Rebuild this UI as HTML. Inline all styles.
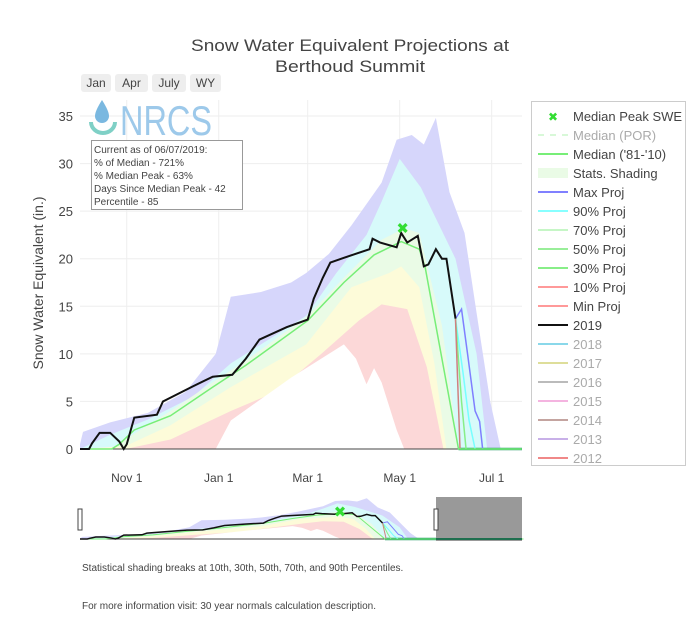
<!DOCTYPE html>
<html><head><meta charset="utf-8">
<style>
body{margin:0;width:700px;height:622px;background:#fff;font-family:"Liberation Sans","DejaVu Sans",sans-serif;position:relative;overflow:hidden}
svg{position:absolute;left:0;top:0}
.btn{position:absolute;top:74px;height:18px;background:#eee;border-radius:3px;font-size:12px;color:#444;line-height:18px;text-align:center}
</style></head><body>
<div class="btn" style="left:81px;width:30px">Jan</div>
<div class="btn" style="left:115px;width:33px">Apr</div>
<div class="btn" style="left:152px;width:34px">July</div>
<div class="btn" style="left:190px;width:31px">WY</div>
<svg id="c" width="700" height="622"></svg>
<script>
// data: days since Oct 1, SWE inches
const wy2019Days=[0,6,8,13,20,26,29,31,36,51,55,75,88,101,110,119,137,151,155,161,166,175,192,194,199,210,213,217,224,228,231,236,240,243,249];
const wy2019Vals=[0,0,0.6,1.7,1.7,0.8,0,0.5,3.3,3.6,5,6.6,7.6,7.8,9.5,11.5,12.8,13.6,15.8,18,19.6,20.1,21,22.1,21.7,21.2,22.7,21.7,22.4,19.2,19.4,21,20,20,13.7];
const medianDays=[0,21,26,36,60,88,110,151,175,195,213,225,229,251,365];
const medianVals=[0,0,0.5,2,3.5,6.5,8.8,13.5,17.5,20.4,21.8,21,19,0,0];
const maxDays=[0,2,20,45,70,90,100,120,140,150,165,180,200,210,220,228,236,245,255,263,272,279];
const maxVals=[0.5,1.8,2.8,3.8,6,10,16,16.5,17.5,18.5,20.5,23.5,28,32.5,33,32,34.8,27,22.7,14.3,5,0];
const p90Days=[0,20,45,75,100,130,150,170,190,200,212,226,249,263,270];
const p90Vals=[0,1.5,3.1,5.5,9,12,14,18.5,22.5,26,30.5,27.5,20,10,0];
const p70Days=[0,21,30,60,88,110,151,175,200,215,225,240,251];
const p70Vals=[0,0,1,4,7,9.3,14,18,22,23.2,22.7,13,0];
const p50Days=[0,30,60,100,150,180,205,213,225,235,243];
const p50Vals=[0,0.3,2.5,6.5,11,17,18.5,19.2,17,9,0];
const p30Days=[0,30,60,100,130,160,185,200,217,230,241];
const p30Vals=[0,0,1,4,6,10,13.5,15.2,14.7,8.6,0];
const p10Days=[0,90,100,140,175,183,190,195,200,210,215];
const p10Vals=[0,0,3,7.5,11,9.5,6.8,8.5,7,2,0];
const projMaxDays=[249,253,257,262,265,267];
const projMaxVals=[13.7,14.7,10,4,2.9,0];
const projMinDays=[249,252];const projMinVals=[13.7,0];
const peakDay=[214],peakVal=[23.2];
const yTicks=[0,5,10,15,20,25,30,35];
const xTickDays=[31,92,151,212,273];
const xTickLabels=["Nov  1","Jan  1","Mar  1","May  1","Jul  1"];

const NS="http://www.w3.org/2000/svg",svg=document.getElementById('c');
function el(t,a,p){const e=document.createElementNS(NS,t);for(const k in a)e.setAttribute(k,a[k]);(p||svg).appendChild(e);return e;}
const X=d=>80+Math.min(d,293)*1.508, Y=v=>449-v*9.514;
const x2=d=>80+d*1.215, y2=v=>539-v*1.17;

function area(days,vals,fx,fy){let s='M'+fx(days[0])+','+fy(0);days.forEach((d,i)=>s+='L'+fx(d)+','+fy(vals[i]));return s+'L'+fx(days[days.length-1])+','+fy(0)+'Z';}
function line(days,vals,fx,fy){return days.map((d,i)=>(i?'L':'M')+fx(d)+','+fy(vals[i])).join('');}

yTicks.forEach(v=>{
const g=el('line',{x1:80,x2:522,y1:Y(v),y2:Y(v),stroke:'#eee'});

const t=el('text',{x:73,y:Y(v)+5,'text-anchor':'end','font-size':13,fill:'#444'});t.textContent=v;

});
xTickDays.forEach((d,i)=>{
const g=el('line',{x1:X(d),x2:X(d),y1:100,y2:449,stroke:'#eee'});

const t=el('text',{x:X(d),y:482,'text-anchor':'middle','font-size':12,fill:'#444'});t.textContent=xTickLabels[i];

});

function drawChart(fx,fy,pre,lw){
const layers=[[maxDays,maxVals,'#d6d6fb','max'],[p90Days,p90Vals,'#d7fafa','p90'],[p70Days,p70Vals,'#eafbe6','p70'],[p50Days,p50Vals,'#fdfbd9','p50'],[p30Days,p30Vals,'#fcd8d8','p30'],[p10Days,p10Vals,'#ffffff','p10']];
layers.forEach(l=>{const p=el('path',{d:area(l[0],l[1],fx,fy),fill:l[2]});
});
const ax=el('line',{x1:80,x2:522,y1:fy(0),y2:fy(0),stroke:'#444','stroke-width':1});

const flat=el('line',{x1:fx(251),x2:522,y1:fy(0),y2:fy(0),stroke:'#2a9d6a','stroke-width':2.5});

const pm=el('path',{d:line(projMaxDays,projMaxVals,fx,fy),fill:'none',stroke:'#7f7fff','stroke-width':lw+0.5});

const pc=el('path',{d:line([249,254,258,262],[13.7,8,3,0],fx,fy),fill:'none',stroke:'#7ff','stroke-width':lw+0.5});

const pg=el('path',{d:line([249,253,256],[13.7,5,0],fx,fy),fill:'none',stroke:'#8e8','stroke-width':lw+0.5});

const pn=el('path',{d:line(projMinDays,projMinVals,fx,fy),fill:'none',stroke:'#d08080','stroke-width':lw+0.5});

const md=el('path',{d:line(medianDays,medianVals,fx,fy),fill:'none',stroke:'#77ee77','stroke-width':lw+0.5});

const wy=el('path',{d:line(wy2019Days,wy2019Vals,fx,fy),fill:'none',stroke:'#111','stroke-width':lw+1});

const px=fx(peakDay[0]),py=fy(peakVal[0]);
const mk=el('text',{x:px,y:py+5,'text-anchor':'middle','font-size':15,'font-weight':'bold',fill:'#33dd33'});mk.textContent='✖';

}
drawChart(X,Y,'',1);
drawChart(x2,y2,'mini-',0.5);

const gray=el('rect',{x:436,y:497,width:86,height:44,fill:'#999'});

const gl=el('line',{x1:436,x2:522,y1:539,y2:539,stroke:'#1f6f4f','stroke-width':2});

[78,434].forEach((hx,i)=>{const h=el('rect',{x:hx,y:509,width:4,height:21,fill:'#fff',stroke:'#444'});
});
</script>
<svg width="700" height="622" style="pointer-events:none">
<text x="191" y="51" font-size="17" fill="#444" textLength="318" lengthAdjust="spacingAndGlyphs">Snow Water Equivalent Projections at</text>
<text x="275" y="72" font-size="17" fill="#444" textLength="150" lengthAdjust="spacingAndGlyphs">Berthoud Summit</text>
<text transform="translate(43,283) rotate(-90)" text-anchor="middle" font-size="14" fill="#444">Snow Water Equivalent (in.)</text>
<g>
<path d="M102,100 Q95,111 95,116 A7,7 0 0 0 109,116 Q109,111 102,100Z" fill="#7ab8e0"/>
<path d="M91,122 A12,11 0 0 0 115,122" fill="none" stroke="#7fd0c6" stroke-width="4"/>
<text x="120" y="135" font-size="42" fill="#9dc9ea" textLength="92" lengthAdjust="spacingAndGlyphs">NRCS</text>
</g>
<g>
<rect x="91.5" y="140.5" width="151" height="69" fill="#fff" stroke="#999"/>
<text font-size="10" fill="#444"><tspan x="94" y="153">Current as of 06/07/2019:</tspan><tspan x="94" y="166">% of Median - 721%</tspan><tspan x="94" y="179">% Median Peak - 63%</tspan><tspan x="94" y="192">Days Since Median Peak - 42</tspan><tspan x="94" y="205">Percentile - 85</tspan></text>
</g>
<g font-size="13">
<rect x="531.5" y="101.5" width="154" height="364" fill="none" stroke="#ccc"/>
<g><text x="553" y="121" text-anchor="middle" font-size="12" font-weight="bold" fill="#33dd33">✖</text><text x="573" y="121" fill="#444">Median Peak SWE</text></g>
<g><line x1="538" x2="568" y1="135" y2="135" stroke="#d8f8d8" stroke-width="2" stroke-dasharray="6,6"/><text x="573" y="140" fill="#aaa">Median (POR)</text></g>
<g><line x1="538" x2="568" y1="154" y2="154" stroke="#77ee77" stroke-width="2"/><text x="573" y="159" fill="#444">Median ('81-'10)</text></g>
<g><rect x="538" y="168" width="30" height="10" fill="#eafbe6"/><text x="573" y="178" fill="#444">Stats. Shading</text></g>
<g><line x1="538" x2="568" y1="192" y2="192" stroke="#8080ff" stroke-width="2"/><text x="573" y="197" fill="#444">Max Proj</text></g>
<g><line x1="538" x2="568" y1="211" y2="211" stroke="#88ffff" stroke-width="2"/><text x="573" y="216" fill="#444">90% Proj</text></g>
<g><line x1="538" x2="568" y1="230" y2="230" stroke="#c6f6c6" stroke-width="2"/><text x="573" y="235" fill="#444">70% Proj</text></g>
<g><line x1="538" x2="568" y1="249" y2="249" stroke="#99ee99" stroke-width="2"/><text x="573" y="254" fill="#444">50% Proj</text></g>
<g><line x1="538" x2="568" y1="268" y2="268" stroke="#88ee88" stroke-width="2"/><text x="573" y="273" fill="#444">30% Proj</text></g>
<g><line x1="538" x2="568" y1="287" y2="287" stroke="#f99" stroke-width="2"/><text x="573" y="292" fill="#444">10% Proj</text></g>
<g><line x1="538" x2="568" y1="306" y2="306" stroke="#f99" stroke-width="2"/><text x="573" y="311" fill="#444">Min Proj</text></g>
<g><line x1="538" x2="568" y1="325" y2="325" stroke="#111" stroke-width="2"/><text x="573" y="330" fill="#444">2019</text></g>
<g><line x1="538" x2="568" y1="344" y2="344" stroke="#8ad8ea" stroke-width="2"/><text x="573" y="349" fill="#aaa">2018</text></g>
<g><line x1="538" x2="568" y1="363" y2="363" stroke="#dede9a" stroke-width="2"/><text x="573" y="368" fill="#aaa">2017</text></g>
<g><line x1="538" x2="568" y1="382" y2="382" stroke="#bbb" stroke-width="2"/><text x="573" y="387" fill="#aaa">2016</text></g>
<g><line x1="538" x2="568" y1="401" y2="401" stroke="#f4b4e0" stroke-width="2"/><text x="573" y="406" fill="#aaa">2015</text></g>
<g><line x1="538" x2="568" y1="420" y2="420" stroke="#c4a4a0" stroke-width="2"/><text x="573" y="425" fill="#aaa">2014</text></g>
<g><line x1="538" x2="568" y1="439" y2="439" stroke="#c8b0e8" stroke-width="2"/><text x="573" y="444" fill="#aaa">2013</text></g>
<g><line x1="538" x2="568" y1="458" y2="458" stroke="#f08888" stroke-width="2"/><text x="573" y="463" fill="#aaa">2012</text></g>
</g>
<text x="82" y="571" font-size="10" fill="#444">Statistical shading breaks at 10th, 30th, 50th, 70th, and 90th Percentiles.</text>
<text x="82" y="609" font-size="10" fill="#444">For more information visit: 30 year normals calculation description.</text>
</svg>
</body></html>
